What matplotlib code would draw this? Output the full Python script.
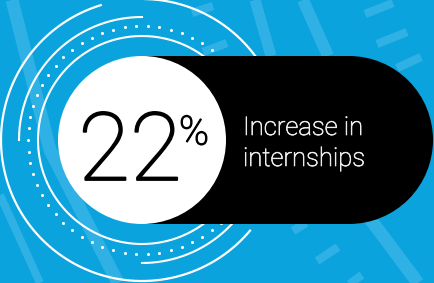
import numpy as np
import matplotlib.pyplot as plt
import matplotlib.patheffects as pe
from matplotlib.patches import Circle, Rectangle

# the figure shown
value = 22
unit = "%"
label_lines = ["Increase in", "internships"]

W, H = 434, 283
bg = "#0ba3dd"
streak = "#2fb1e5"

fig = plt.figure(figsize=(W / 100, H / 100), dpi=100)
fig.patch.set_facecolor(bg)
ax = fig.add_axes([0, 0, 1, 1])
ax.set_xlim(0, W)
ax.set_ylim(H, 0)
ax.set_aspect("equal")
ax.axis("off")

# light background streaks (wide bands + short dashes)
bands = [
    ([12, 50, 118], [0, 150, 283], 13),
    ([0, 40], [195, 283], 8),
    ([255, 271], [0, 56], 11),
    ([303, 328], [0, 56], 12),
    ([365, 418], [212, 283], 13),
]
for xs, ys, w in bands:
    ax.plot(xs, ys, color=streak, lw=w * 0.72, solid_capstyle="butt", zorder=1)

dashes = [
    ((192, 213), (13, 6)), ((203, 227), (52, 43)),
    ((365, 393), (14, 3)), ((377, 407), (44, 32)), ((397, 421), (68, 57)),
    ((293, 306), (231, 223)), ((317, 338), (261, 247)), ((348, 362), (285, 275)),
]
for xs, ys in dashes:
    ax.plot(xs, ys, color=streak, lw=6, solid_capstyle="butt", zorder=1)

# rings round the number
cx, cy = 142, 140


def ring(r, a0, a1, **kw):
    t = np.radians(np.linspace(a0, a1, 300))
    ax.plot(cx + r * np.cos(t), cy - r * np.sin(t), color="white", zorder=2, **kw)


ring(104, 0, 360, lw=1.5)
ring(123, 90, 180, lw=1.5)
ring(123, 270, 360, lw=1.5)
ring(141, 107, 320, lw=1.6)
ring(141, 0, 89, lw=1.6)

n_dots = 62
t = np.radians(np.arange(n_dots) * 360 / n_dots)
ax.plot(cx + 114 * np.cos(t), cy - 114 * np.sin(t), "o", color="white",
        ms=2.2, mec="none", zorder=2)

# black pill and white disc
R = 84
ax.add_patch(Rectangle((cx, cy - R), 207, 2 * R, color="black", lw=0, zorder=3))
ax.add_patch(Circle((cx + 207, cy), R, color="black", lw=0, zorder=3))
ax.add_patch(Circle((cx, cy), R, color="white", lw=0, zorder=4))

ax.text(130, 180, str(value), ha="center", va="baseline", fontsize=68,
        family="Roboto", fontweight="light", color="black", zorder=5,
        path_effects=[pe.withStroke(linewidth=1.3, foreground="black")])
ax.text(179, 114, unit, ha="left", va="top", fontsize=29,
        family="Roboto", fontweight="light", color="black", zorder=5,
        path_effects=[pe.withStroke(linewidth=0.9, foreground="black")])

label_col = "#ececec"
for i, line in enumerate(label_lines):
    ax.text(243, 135 + 31 * i, line, ha="left", va="baseline", fontsize=18.5,
            family="Roboto", fontweight="light", color=label_col, zorder=5,
            path_effects=[pe.withStroke(linewidth=0.5, foreground=label_col)])

fig.savefig("out.png", dpi=100, facecolor=bg)
